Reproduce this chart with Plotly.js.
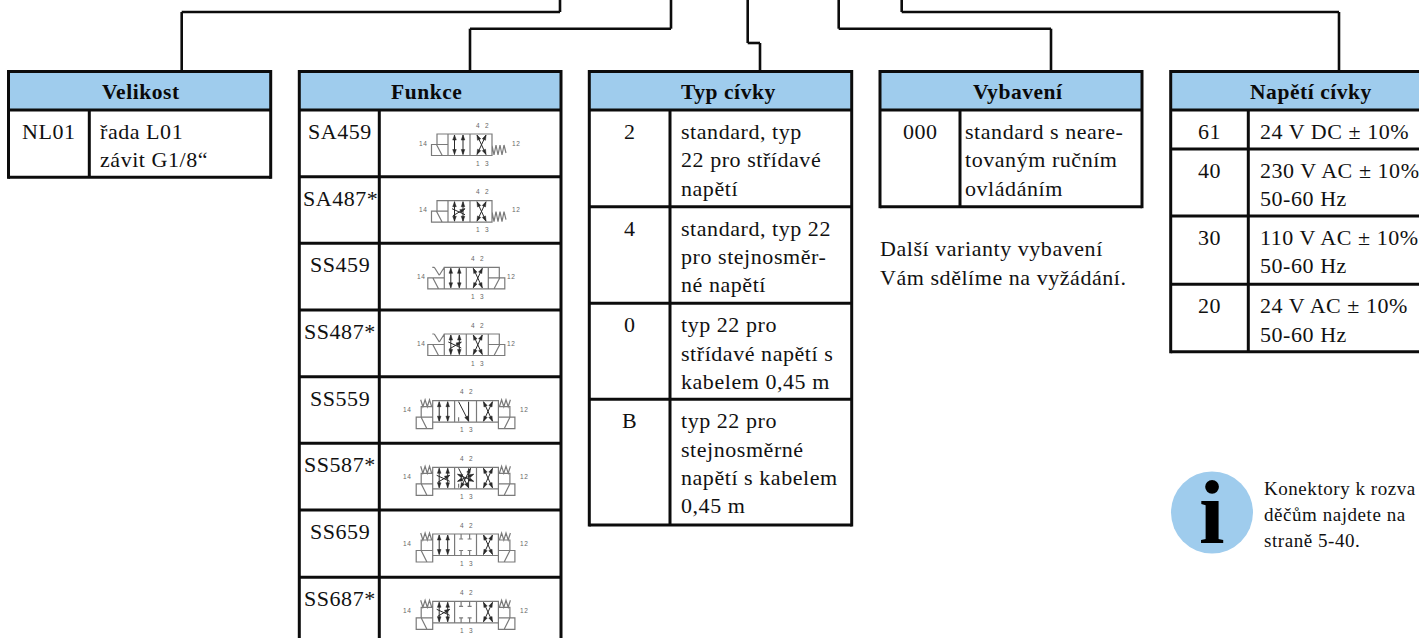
<!DOCTYPE html>
<html><head><meta charset="utf-8">
<script src="https://cdn.plot.ly/plotly-3.0.1.min.js"></script>
<style>html,body{margin:0;padding:0;background:#fff;overflow:hidden}
.annotation-text{letter-spacing:.55px}</style>
</head><body><div id="chart" style="width:1419px;height:638px"></div>
<script>
// ---- content ----
const headers = ["Velikost","Funkce","Typ cívky","Vybavení","Napětí cívky"];
const velikostCodes = ["NL01"];
const velikostTexts = [["řada L01","závit G1/8“"]];
const funkceCodes = ["SA459","SA487*","SS459","SS487*","SS559","SS587*","SS659","SS687*"];
const funkceSymbols = [
  {k:"A",c:["par","x"]},{k:"A",c:["pard","x"]},
  {k:"B",c:["par","x"]},{k:"B",c:["pard","x"]},
  {k:"C",c:["par","n","x"]},{k:"C",c:["pard","ns","x"]},
  {k:"C",c:["par","t","x"]},{k:"C",c:["pard","t","x"]}];
const typCodes = ["2","4","0","B"];
const typTexts = [
  ["standard, typ","22 pro střídavé","napětí"],
  ["standard, typ 22","pro stejnosměr-","né napětí"],
  ["typ 22 pro","střídavé napětí s","kabelem 0,45 m"],
  ["typ 22 pro","stejnosměrné","napětí s kabelem","0,45 m"]];
const vybaveniCodes = ["000"];
const vybaveniTexts = [["standard s neare-","tovaným ručním","ovládáním"]];
const vybaveniNote = ["Další varianty vybavení","Vám sdělíme na vyžádání."];
const napetiCodes = ["61","40","30","20"];
const napetiTexts = [["24 V DC ± 10%"],["230 V AC ± 10%","50-60 Hz"],["110 V AC ± 10%","50-60 Hz"],["24 V AC ± 10%","50-60 Hz"]];
const infoNote = ["Konektory k rozva","děčům najdete na","straně 5-40."];

// ---- layout geometry ----
const BLUE="#9fcced", FONT="Liberation Serif", FS=22, LH=28.3;
const geo = [
 {l:8.5,s:89.3,r:270.7,hx:140.5,pad:11,rows:[110,177.3],codes:velikostCodes,texts:velikostTexts},
 {l:299.3,s:379.3,r:561,hx:426.7,pad:0,rows:[110,176.7,243.3,310,376.7,443.3,510,577.3,650],codes:funkceCodes,texts:null},
 {l:589.3,s:670,r:851.7,hx:728,pad:11,rows:[110,206.7,303.3,399.3,525],codes:typCodes,texts:typTexts},
 {l:880,s:960,r:1142,hx:1018,pad:5,rows:[110,206.7],codes:vybaveniCodes,texts:vybaveniTexts},
 {l:1170.7,s:1248.3,r:1440,hx:1310.7,pad:12,rows:[110,149,216,284.3,351.7],codes:napetiCodes,texts:napetiTexts}
];
const connectors = [
 [[181.7,71],[181.7,12],[560,12],[560,0]],
 [[470,71],[470,28.7],[671,28.7],[671,0]],
 [[760,71],[760,43],[747.7,43],[747.7,0]],
 [[838.7,0],[838.7,28.7],[1051,28.7],[1051,71]],
 [[901.7,0],[901.7,12],[1339,12],[1339,71]]
];
const shapes=[], annotations=[];
const TOP=71.5;
const ln=(x0,y0,x1,y1,w=3)=>shapes.push({type:"line",xref:"x",yref:"y",x0,y0,x1,y1,line:{color:"#0c0c0c",width:w},layer:"above"});
const txt=(x,y,text,o={})=>annotations.push(Object.assign({xref:"x",yref:"y",x,y,text,showarrow:false,xanchor:"left",yanchor:"middle",
   font:{family:FONT,size:FS,color:"#111"},borderpad:0,borderwidth:0},o));

geo.forEach((g,i)=>{
  shapes.push({type:"rect",xref:"x",yref:"y",x0:g.l,x1:g.r,y0:TOP,y1:g.rows[0],fillcolor:BLUE,line:{width:0},layer:"below"});
  const bottom=g.rows[g.rows.length-1];
  ln(g.l,TOP,g.r,TOP); ln(g.l,TOP-1.5,g.l,bottom+1.5); ln(g.r,TOP-1.5,g.r,bottom+1.5); ln(g.s,g.rows[0],g.s,bottom);
  g.rows.forEach(y=>ln(g.l,y,g.r,y));
  txt(g.hx,91.5,"<b>"+headers[i]+"</b>",{xanchor:"center",font:{family:FONT,size:21.5,color:"#0a0a0a"}});
  g.codes.forEach((c,k)=>{
    txt((g.l+g.s)/2+(i==1?1:0),g.rows[k]+21.5,c,{xanchor:"center"});
    if(g.texts) g.texts[k].forEach((t,j)=>txt(g.s+g.pad,g.rows[k]+21.5+j*LH,t));
  });
});
connectors.forEach(c=>{for(let i=0;i<c.length-1;i++) ln(c[i][0],c[i][1],c[i+1][0],c[i+1][1],2.6);});
vybaveniNote.forEach((t,j)=>txt(880,248+j*29,t));
infoNote.forEach((t,j)=>txt(1264,488+j*26,t,{font:{family:FONT,size:19,color:"#111"}}));
shapes.push({type:"circle",xref:"x",yref:"y",x0:1171,x1:1253,y0:471.5,y1:553.5,fillcolor:BLUE,line:{width:0},layer:"below"});
txt(1212,512,"<b>i</b>",{xanchor:"center",font:{family:FONT,size:92,color:"#000"}});

// ---- valve symbols ----
const symbolBodyX={A:448,B:444.3,C:432.7}, CW={A:22,B:22,C:21.9}, BH=21.5;
function head(x,y,dx,dy){const n=Math.hypot(dx,dy),ux=dx/n,uy=dy/n,L=5,W=1.8;
  return `M${x},${y} L${x-ux*L-uy*W},${y-uy*L+ux*W} L${x-ux*L+uy*W},${y-uy*L-ux*W} Z `;}
function seg(a,b,c,d){return `M${a},${b} L${c},${d} `;}
funkceSymbols.forEach((s,idx)=>{
  const top=geo[1].rows[idx], y0=top+24, x0=symbolBodyX[s.k], w=CW[s.k], x1=x0+w*s.c.length, y1=y0+BH;
  let grey="",dark="",heads="";
  grey+=`M${x0},${y0} L${x1},${y0} L${x1},${y1} L${x0},${y1} Z `;
  for(let i=1;i<s.c.length;i++) grey+=seg(x0+i*w,y0,x0+i*w,y1);
  const both=(a,b,c,d)=>{dark+=seg(a,b,c,d);heads+=head(a,b,a-c,b-d)+head(c,d,c-a,d-b);};
  const one=(a,b,c,d)=>{dark+=seg(a,b,c,d);heads+=head(c,d,c-a,d-b);};
  s.c.forEach((c,i)=>{
    const X=x0+i*w,T=y0+1,B=y1-1;
    if(c=="par"||c=="pard"){both(X+6.5,T,X+6.5,B);both(X+15,T,X+15,B);}
    if(c=="pard"){one(X+5,y0+15,X+17,y0+8);dark+=seg(X+4,y0+8,X+17,y0+14);}
    if(c=="x"){both(X+7,T,X+16,B);both(X+16,T,X+7,B);}
    if(c=="n"||c=="ns"){one(X+4,T,X+14,B);dark+=seg(X+14,T,X+14,B);grey+=seg(X+4,B,X+4,B-4);}
    if(c=="ns"){both(X+16,T,X+6,B);both(X+3,y0+7,X+19,y0+14);both(X+3,y0+14,X+19,y0+7);}
    if(c=="t"){[6.5,15].forEach(d=>{grey+=seg(X+d,y0,X+d,y0+5)+seg(X+d-2,y0+5,X+d+2,y0+5)+seg(X+d,y1,X+d,y1-5)+seg(X+d-2,y1-5,X+d+2,y1-5);});}
  });
  const side=(E,dir,spring,upperV)=>{ // E: body edge, dir: -1 left, +1 right
    const low=s.k=="C"?[y0+16.5,y0+28]:[y0+10.5,y1], up=s.k=="C"?[y0+6,y0+16.5]:[y0,y0+10.5], W=16.5, U=s.k=="C"?11.5:11;
    grey+=`M${E},${low[0]} L${E+dir*W},${low[0]} L${E+dir*W},${low[1]} L${E},${low[1]} `+(s.k=="C"?`L${E},${low[0]} `:"");
    grey+=seg(E+dir*W*0.7,low[0],E+dir*W*0.35,low[1]);
    if(upperV){grey+=seg(E+dir*10,y0,E+dir*5,y0+8)+seg(E+dir*5,y0+8,E,y0)+seg(E+dir*10,y0,E+dir*12,y0);}
    else grey+=`M${E},${up[0]} L${E+dir*U},${up[0]} L${E+dir*U},${up[1]} `+(s.k=="C"?seg(E,up[1],E+dir*U,up[1]):"");
    if(spring){ // zig-zag spring above the upper box
      const xs=[0,2.2,4.4,6.6,8.8,11],ys=[0,-7,0,-7,0,-7];
      grey+="M"+xs.map((v,i)=>`${E+dir*(v+1)},${up[0]+ys[i]}`).join(" L")+" ";
    }
  };
  if(s.k=="A"){ side(x0,-1,false,false);
    let zz=`M${x1},${y0+11}`; [[2,10],[4,0],[6,10],[8,0],[10,10],[12,0],[14,8]].forEach(v=>{zz+=` L${x1+v[0]},${y0+11+v[1]}`;}); grey+=zz+" ";
  } else if(s.k=="B"){ side(x0,-1,false,true); side(x1,1,false,false); }
  else { side(x0,-1,true,false); side(x1,1,true,false); }
  shapes.push({type:"path",xref:"x",yref:"y",path:grey,line:{color:"#7a7a7a",width:1.2},layer:"above"});
  shapes.push({type:"path",xref:"x",yref:"y",path:dark,line:{color:"#2a2a2a",width:1},layer:"above"});
  shapes.push({type:"path",xref:"x",yref:"y",path:heads,line:{color:"#2a2a2a",width:0.5},fillcolor:"#2a2a2a",layer:"above"});
  const lab=(x,y,t)=>txt(x,y,t,{xanchor:"center",font:{family:"Liberation Sans",size:6.5,color:"#666"}});
  const mid=s.k=="A"?x0+34:(s.k=="B"?x0+33:x0+33.5), off=s.k=="A"?25:(s.k=="B"?23:25.5);
  lab(x0-off,y0+9,"14"); lab(x1+off-(s.k=="A"?1:0),y0+9,"12");
  lab(mid,y0-9,"4&nbsp;&nbsp;2"); lab(mid,y1+7.5,"1&nbsp;&nbsp;3");
});

Plotly.newPlot("chart",[{x:[0,1419],y:[0,638],mode:"markers",marker:{opacity:0},hoverinfo:"skip",showlegend:false}],{
  width:1419,height:638,margin:{l:0,r:0,t:0,b:0},paper_bgcolor:"#fff",plot_bgcolor:"#fff",showlegend:false,
  xaxis:{range:[0,1419],visible:false,fixedrange:true},
  yaxis:{range:[638,0],visible:false,fixedrange:true},
  shapes,annotations
},{staticPlot:true,displayModeBar:false});
</script></body></html>
